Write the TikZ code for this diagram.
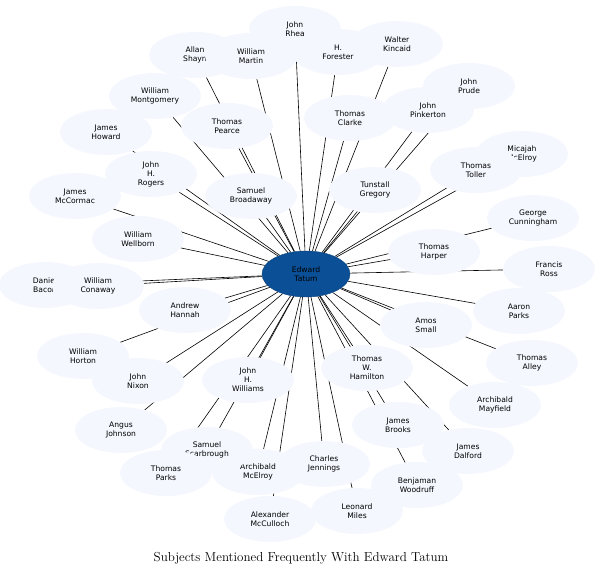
\documentclass[tikz,border=0pt]{standalone}
\usepackage{fontspec}
\newfontfamily\dv{DejaVu Sans}
\usetikzlibrary{shapes.geometric,backgrounds}
\definecolor{nfill}{HTML}{F4F7FE}
\definecolor{cfill}{HTML}{0B4F96}
\tikzset{
  nd/.style={ellipse,fill=nfill,minimum width=92pt,minimum height=46pt,inner sep=0pt,align=center,font=\dv\fontsize{7.6}{9}\selectfont},
  ctr/.style={ellipse,fill=cfill,draw=cfill!80!black,minimum width=88pt,minimum height=46pt,inner sep=0pt,align=center,font=\dv\fontsize{7.6}{9}\selectfont},
  ed/.style={draw=black,line width=0.6pt}
}
\begin{document}
\begin{tikzpicture}[x=1pt,y=-1pt]
\useasboundingbox (0,0) rectangle (603,580);
\node[nd] (n1) at (45,285) {Daniel\\Bacon};
\node[nd] (n2) at (98,286) {William\\Conaway};
\node[nd] (n3) at (295,29) {John\\Rhea};
\node[nd] (n4) at (195,55) {Allan\\Shayn};
\node[nd] (n5) at (251,56) {William\\Martin};
\node[nd] (n6) at (338,52) {H.\\Forester};
\node[nd] (n7) at (397,44) {Walter\\Kincaid};
\node[nd] (n8) at (469,86) {John\\Prude};
\node[nd] (n9) at (155,96) {William\\Montgomery};
\node[nd] (n10) at (428,110) {John\\Pinkerton};
\node[nd] (n11) at (350,118) {Thomas\\Clarke};
\node[nd] (n12) at (227,126) {Thomas\\Pearce};
\node[nd] (n13) at (106,132) {James\\Howard};
\node[nd] (n14) at (522,154) {Micajah\\McElroy};
\node[nd] (n15) at (476,170) {Thomas\\Toller};
\node[nd] (n17) at (75,196) {James\\McCormac};
\node[nd] (n16) at (151,174) {John\\H.\\Rogers};
\node[nd] (n18) at (375,190) {Tunstall\\Gregory};
\node[nd] (n19) at (251,196) {Samuel\\Broadaway};
\node[nd] (n20) at (533,218) {George\\Cunningham};
\node[nd] (n21) at (138,239) {William\\Wellborn};
\node[nd] (n22) at (434,252) {Thomas\\Harper};
\node[nd] (n23) at (549,269) {Francis\\Ross};
\node[nd] (n24) at (185,310) {Andrew\\Hannah};
\node[nd] (n25) at (519,311) {Aaron\\Parks};
\node[nd] (n26) at (426,325) {Amos\\Small};
\node[nd] (n27) at (83,356) {William\\Horton};
\node[nd] (n28) at (532,363) {Thomas\\Alley};
\node[nd] (n29) at (248,380) {John\\H.\\Williams};
\node[nd] (n30) at (138,381) {John\\Nixon};
\node[nd] (n31) at (367,368) {Thomas\\W.\\Hamilton};
\node[nd] (n32) at (495,405) {Archibald\\Mayfield};
\node[nd] (n33) at (398,425) {James\\Brooks};
\node[nd] (n34) at (121,430) {Angus\\Johnson};
\node[nd] (n35) at (258,472) {Archibald\\McElroy};
\node[nd] (n36) at (207,450) {Samuel\\Scarbrough};
\node[nd] (n37) at (166,473) {Thomas\\Parks};
\node[nd] (n38) at (468,451) {James\\Dalford};
\node[nd] (n39) at (324,464) {Charles\\Jennings};
\node[nd] (n40) at (417,485) {Benjaman\\Woodruff};
\node[nd] (n41) at (270,519) {Alexander\\McCulloch};
\node[nd] (n42) at (357,511) {Leonard\\Miles};
\node[ctr] (c) at (306,274) {Edward\\Tatum};
\begin{scope}[on background layer]
\foreach \i in {1,...,42} { \draw[ed] (c) -- (n\i); }
\end{scope}
\node (title) at (301,558) {\fontsize{13}{15}\selectfont Subjects Mentioned Frequently With Edward Tatum};
\end{tikzpicture}
\end{document}
